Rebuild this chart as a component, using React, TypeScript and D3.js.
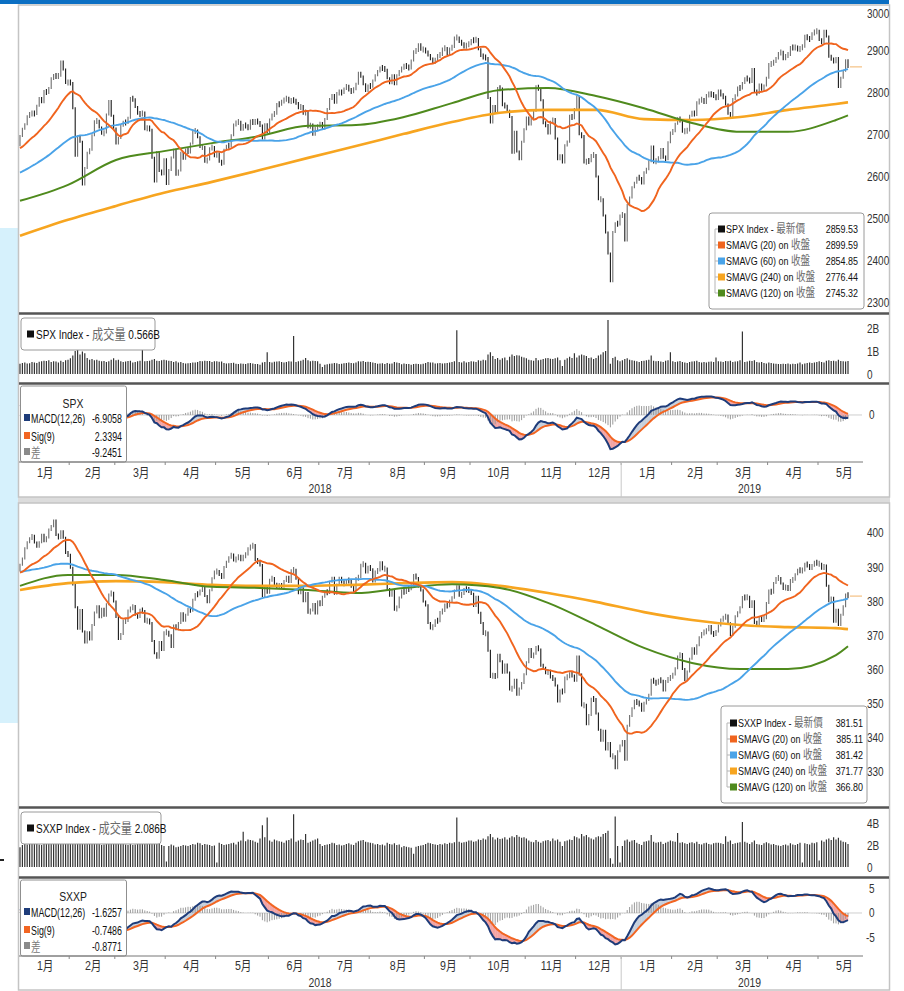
import React from "react";
import * as d3 from "d3";

const SANS = "'Liberation Sans',Arial,sans-serif";
const CJK = "'Noto Sans CJK TC','Noto Sans CJK SC',sans-serif";

// ---------------- shared time axis (trading-day index) ----------------
const monthLabels = ["1月", "2月", "3月", "4月", "5月", "6月", "7月", "8月", "9月", "10月", "11月", "12月", "1月", "2月", "3月", "4月", "5月"];
const monthStarts = [0, 21, 40, 61, 82, 104, 125, 146, 169, 188, 211, 232, 251, 272, 291, 312, 333];
const axisEndIndex = 354;
const yearLabels = ["2018", "2019"];
const yearStarts = [0, 251];
const maSampleIndex = [0, 20, 40, 60, 80, 100, 120, 140, 160, 180, 200, 220, 240, 260, 280, 300, 320, 340, 345];

// ---------------- SPX ----------------
const spxHistory = [
  2552, 2549, 2544, 2551, 2555, 2550, 2553, 2557, 2560, 2561, 2562, 2575, 2565, 2569, 2557, 2560, 2581, 2573, 2575,
  2579, 2580, 2588, 2591, 2591, 2594, 2585, 2582, 2584, 2579, 2565, 2586, 2579, 2582, 2599, 2597, 2602, 2602, 2627, 2626, 2648,
  2642, 2639, 2630, 2629, 2636, 2652, 2660, 2665, 2663, 2652, 2676, 2690, 2681, 2679, 2684, 2683, 2680, 2682, 2688, 2674,
];
const spxClose2018 = [
  2696, 2713, 2724, 2743, 2748, 2751, 2748, 2768, 2786, 2776, 2803, 2798, 2810, 2833, 2839, 2838, 2839, 2873, 2854, 2822, 2824,
  2822, 2762, 2649, 2695, 2682, 2581, 2620, 2656, 2663, 2698, 2731, 2732, 2716, 2701, 2704, 2747, 2779, 2744, 2714,
  2678, 2691, 2721, 2729, 2727, 2739, 2786, 2783, 2765, 2749, 2747, 2752, 2712, 2717, 2711, 2644, 2588, 2658, 2613, 2605, 2641,
  2582, 2615, 2645, 2663, 2604, 2614, 2656, 2642, 2664, 2657, 2678, 2707, 2709, 2693, 2670, 2670, 2635, 2640, 2667, 2670, 2648,
  2655, 2635, 2630, 2663, 2673, 2672, 2698, 2723, 2728, 2730, 2711, 2722, 2720, 2713, 2733, 2725, 2733, 2728, 2721, 2690, 2724, 2705,
  2735, 2747, 2749, 2772, 2771, 2779, 2782, 2787, 2776, 2782, 2780, 2774, 2762, 2767, 2749, 2755, 2717, 2723, 2699, 2716, 2718,
  2727, 2713, 2736, 2760, 2784, 2793, 2775, 2798, 2801, 2798, 2809, 2815, 2804, 2802, 2807, 2820, 2846, 2837, 2819, 2803, 2816,
  2813, 2828, 2840, 2850, 2858, 2857, 2853, 2833, 2821, 2840, 2819, 2840, 2850, 2858, 2863, 2861, 2856, 2875, 2897, 2898, 2914, 2901, 2902,
  2896, 2888, 2878, 2872, 2877, 2888, 2888, 2904, 2905, 2889, 2904, 2907, 2930, 2930, 2919, 2916, 2906, 2914, 2914,
  2924, 2923, 2926, 2902, 2886, 2884, 2881, 2786, 2728, 2767, 2751, 2810, 2809, 2769, 2768, 2756, 2741, 2656, 2706, 2659, 2641, 2682, 2712,
  2740, 2723, 2738, 2756, 2814, 2807, 2781, 2726, 2722, 2702, 2730, 2736, 2690, 2641, 2650, 2633, 2674, 2682, 2744, 2738, 2760,
  2790, 2700, 2696, 2633, 2637, 2636, 2651, 2651, 2600, 2546, 2546, 2507, 2467, 2417, 2351, 2468, 2489, 2486, 2507,
];
const spxClose2019 = [
  2510, 2448, 2532, 2550, 2574, 2585, 2597, 2596, 2583, 2610, 2617, 2636, 2671, 2633, 2639, 2643, 2665, 2644, 2641, 2681, 2704,
  2707, 2725, 2738, 2732, 2706, 2708, 2709, 2744, 2753, 2746, 2776, 2780, 2784, 2774, 2793, 2796, 2794, 2792, 2784,
  2804, 2792, 2789, 2771, 2749, 2743, 2784, 2792, 2811, 2809, 2822, 2833, 2832, 2824, 2855, 2801, 2798, 2818, 2806, 2816, 2834,
  2867, 2867, 2873, 2880, 2893, 2896, 2878, 2888, 2888, 2907, 2905, 2907, 2900, 2905, 2908, 2934, 2927, 2926, 2940, 2943, 2946,
  2924, 2918, 2946, 2932, 2884, 2880, 2871, 2881, 2812, 2834, 2851, 2876, 2860,
];
// volume in hundredths of a billion shares
const spxVolume2018 = [
  45, 48, 50, 46, 47, 52, 50, 48, 53, 55, 58, 56, 60, 52, 55, 54, 50, 58, 52, 60, 62,
  68, 80, 100, 105, 85, 98, 90, 70, 62, 65, 60, 62, 58, 55, 56, 52, 55, 62, 68,
  60, 62, 55, 52, 54, 56, 58, 50, 52, 55, 58, 105, 55, 56, 58, 62, 65, 58, 56, 60, 62,
  60, 58, 56, 52, 55, 50, 52, 48, 46, 47, 48, 50, 50, 52, 56, 55, 58, 56, 57, 52, 55,
  55, 53, 54, 48, 46, 47, 48, 49, 45, 44, 46, 45, 44, 47, 48, 46, 44, 43, 40, 50, 52, 95,
  52, 50, 53, 54, 55, 52, 50, 52, 55, 54, 165, 52, 55, 58, 62, 70, 60, 55, 58, 57, 55,
  45, 30, 40, 42, 45, 46, 48, 47, 44, 45, 47, 48, 50, 48, 47, 50, 55, 54, 56, 52, 53,
  52, 50, 48, 45, 46, 47, 44, 48, 45, 46, 52, 50, 48, 42, 46, 44, 43, 40, 44, 45, 44, 42, 45,
  48, 52, 50, 50, 46, 47, 48, 46, 47, 48, 50, 52, 55, 190, 52, 50, 55, 50, 52,
  55, 54, 52, 60, 58, 62, 60, 85, 95, 78, 65, 70, 62, 68, 72, 60, 75, 85, 78, 82, 80, 75, 72,
  68, 62, 60, 58, 70, 60, 62, 65, 68, 70, 66, 65, 68, 72, 60, 35, 62, 68, 75, 70, 90,
  72, 80, 85, 82, 78, 70, 72, 65, 70, 80, 85, 95, 100, 235, 45, 70, 75, 60, 55,
];
const spxVolume2019 = [
  60, 65, 68, 62, 60, 58, 55, 52, 56, 58, 60, 62, 80, 58, 55, 56, 54, 52, 58, 60, 95,
  55, 52, 54, 56, 52, 50, 48, 52, 54, 55, 58, 52, 50, 52, 50, 53, 54, 52, 72,
  55, 54, 52, 56, 55, 58, 52, 54, 55, 60, 185, 52, 54, 58, 56, 60, 52, 50, 52, 48, 46,
  50, 48, 46, 45, 44, 43, 45, 44, 46, 42, 45, 44, 46, 50, 42, 46, 48, 50, 48, 50, 52,
  55, 52, 50, 58, 60, 56, 58, 55, 62, 56, 55, 54, 57,
];
const spxSma240 = [2459, 2497, 2530, 2561, 2587, 2615, 2644, 2672, 2701, 2729, 2751, 2758, 2758, 2736, 2734, 2741, 2758, 2772, 2776];
const spxSma120 = [2542, 2580, 2639, 2660, 2679, 2696, 2720, 2722, 2741, 2774, 2805, 2810, 2791, 2762, 2727, 2706, 2706, 2734, 2745];
const spxPriceTicks = [3000, 2900, 2800, 2700, 2600, 2500, 2400, 2300];
const spxVolTicks = [2, 1, 0];
const spxVolTickLabels = ["2B", "1B", "0"];
const spxMacdTicks = [0];
const spxLegendValues = ["2859.53", "2899.59", "2854.85", "2776.44", "2745.32"];
const spxMacdLegendValues = ["-6.9058", "2.3394", "-9.2451"];

// ---------------- SXXP ----------------
const sxxpHistory = [
  389, 389, 389, 390, 390, 390, 391, 390, 391, 390, 389, 389, 389, 389, 388, 392, 395, 395, 395,
  396, 395, 396, 396, 393, 391, 389, 386, 384, 380, 380, 382, 382, 385, 387, 387, 385, 386, 388, 384, 383,
  386, 387, 386, 385, 387, 390, 391, 389, 387, 387, 386, 391, 390, 388, 389, 390, 389, 388, 388, 389,
];
const sxxpClose2018 = [
  390.7, 392.5, 395.5, 397.3, 398.4, 399.2, 397.2, 396.0, 397.3, 399.5, 397.6, 398.7, 401.0, 402.0, 403.7, 399.4, 398.5, 400.5, 398.6, 394.1, 393.6,
  389.8, 384.9, 378.2, 371.9, 377.4, 371.1, 367.9, 370.9, 368.8, 373.0, 376.7, 378.5, 375.3, 377.8, 375.7, 379.1, 382.0, 382.5, 379.9,
  375.4, 368.9, 370.4, 374.2, 374.2, 377.3, 377.8, 378.6, 376.0, 375.4, 377.5, 377.1, 374.0, 374.5, 373.6, 368.3, 364.7, 363.4, 368.0, 365.7, 370.9,
  370.9, 370.0, 366.6, 372.9, 371.8, 373.6, 376.5, 374.3, 376.0, 377.8, 377.2, 380.4, 382.1, 382.0, 383.1, 384.0, 381.5, 379.7, 383.2, 386.7, 388.7,
  388.7, 387.9, 386.9, 390.0, 391.6, 392.9, 393.7, 391.9, 392.5, 393.3, 392.0, 393.3, 393.7, 395.5, 396.0, 396.5, 392.1, 391.5, 390.6, 381.5, 383.9, 382.5,
  386.3, 386.8, 384.9, 384.2, 384.7, 384.2, 385.9, 387.2, 385.6, 389.1, 389.2, 386.6, 382.3, 383.8, 380.0, 382.4, 376.6, 377.3, 379.2, 376.4, 379.9,
  378.9, 381.3, 382.8, 382.4, 385.7, 386.9, 382.2, 384.9, 386.9, 385.5, 385.0, 386.1, 386.0, 384.2, 383.1, 386.8, 387.0, 390.7, 391.0, 388.4, 390.1,
  389.4, 385.8, 388.7, 389.0, 391.4, 389.4, 389.6, 383.6, 381.6, 383.3, 377.5, 378.2, 381.1, 383.1, 382.4, 383.7, 383.5, 384.7, 387.7, 386.8, 384.3, 383.2, 379.9,
  378.8, 373.6, 372.0, 372.7, 374.4, 374.1, 376.8, 377.1, 379.0, 378.5, 380.1, 381.0, 383.1, 384.4, 381.6, 382.1, 383.6, 383.4, 383.2,
  382.2, 378.6, 381.3, 376.6, 373.6, 370.4, 370.8, 365.5, 357.8, 358.4, 357.7, 364.3, 362.4, 359.0, 361.4, 359.1, 354.1, 354.6, 357.0, 352.6, 354.4, 356.0, 358.6,
  362.1, 366.0, 363.6, 364.6, 366.6, 365.8, 361.1, 360.5, 358.9, 359.6, 357.6, 357.3, 355.3, 350.6, 353.8, 353.3, 357.6, 357.8, 358.8, 358.2, 356.7,
  363.8, 358.5, 349.4, 349.6, 343.9, 346.6, 351.4, 351.3, 347.1, 342.3, 339.1, 342.0, 336.5, 338.4, 334.5, 334.5, 331.0, 336.0, 337.7,
];
const sxxpClose2019 = [
  339.0, 333.5, 343.5, 346.3, 348.6, 350.8, 350.1, 349.9, 347.9, 350.2, 351.0, 352.6, 357.0, 356.3, 355.9, 356.9, 356.7, 353.8, 356.6, 357.2, 357.7,
  358.5, 360.3, 363.8, 364.5, 360.1, 356.9, 359.4, 363.1, 366.2, 364.6, 367.1, 369.4, 370.7, 370.9, 371.5, 372.7, 370.5, 370.3, 371.1,
  372.9, 374.6, 375.1, 375.8, 373.5, 370.1, 372.5, 375.6, 376.7, 378.2, 381.2, 381.0, 381.3, 378.3, 380.0, 373.6, 373.1, 375.1, 374.5, 375.0, 379.5,
  383.1, 382.5, 385.3, 386.8, 386.8, 385.2, 383.6, 384.4, 383.3, 386.2, 386.3, 387.9, 389.2, 389.0, 389.0, 391.0, 390.5, 389.5, 390.5, 391.5, 391.0,
  391.0, 389.5, 390.5, 384.5, 380.0, 381.0, 374.0, 377.5, 373.0, 376.0, 378.5, 382.0, 381.5,
];
const sxxpVolume2018 = [
  180, 200, 210, 205, 220, 215, 230, 210, 205, 200, 215, 220, 210, 225, 240, 230, 215, 220, 230, 240, 250,
  260, 270, 300, 310, 280, 300, 290, 240, 230, 225, 220, 215, 210, 200, 205, 210, 220, 230, 240,
  230, 220, 210, 215, 205, 200, 210, 200, 205, 210, 240, 320, 210, 220, 215, 230, 250, 220, 210, 200, 190,
  50, 190, 205, 195, 180, 185, 190, 200, 195, 190, 200, 210, 205, 220, 215, 200, 210, 205, 200, 190, 195,
  40, 220, 210, 200, 205, 210, 215, 220, 205, 230, 240, 320, 235, 250, 245, 240, 230, 220, 260, 380, 270, 450,
  240, 230, 250, 240, 235, 230, 220, 240, 245, 260, 480, 230, 240, 250, 245, 300, 220, 230, 240, 250, 260,
  210, 190, 200, 205, 210, 220, 215, 200, 205, 195, 200, 210, 215, 205, 200, 220, 235, 240, 245, 230, 225,
  220, 215, 205, 210, 200, 205, 195, 220, 210, 205, 215, 200, 205, 180, 190, 185, 180, 175, 120, 185, 190, 195, 200,
  210, 220, 215, 210, 205, 200, 210, 205, 215, 210, 220, 215, 225, 450, 230, 220, 225, 230, 240,
  240, 230, 235, 250, 245, 260, 250, 280, 300, 270, 250, 265, 255, 260, 270, 250, 265, 280, 270, 290, 275, 265, 270,
  260, 240, 230, 225, 245, 230, 220, 235, 240, 245, 235, 260, 240, 250, 230, 190, 235, 240, 250, 245, 280,
  270, 260, 300, 280, 290, 270, 260, 250, 270, 280, 275, 300, 310, 330, 80, 30, 460, 190, 40,
];
const sxxpVolume2019 = [
  190, 240, 250, 230, 240, 245, 220, 210, 200, 230, 235, 240, 290, 230, 220, 225, 230, 210, 220, 230, 240,
  235, 230, 310, 220, 225, 215, 210, 220, 225, 215, 230, 210, 205, 215, 220, 210, 205, 215, 220,
  220, 215, 210, 280, 230, 240, 210, 215, 220, 225, 410, 230, 220, 210, 225, 240, 210, 205, 200, 215, 225,
  215, 205, 210, 200, 195, 190, 200, 205, 195, 215, 205, 200, 210, 220, 40, 215, 210, 205, 220, 215, 225,
  60, 240, 230, 250, 260, 245, 270, 250, 265, 240, 230, 225, 209,
];
const sxxpSma240 = [383.3, 385.3, 385.9, 385.6, 384.8, 384.5, 384.5, 384.8, 385.3, 385.6, 384.5, 382.4, 379.8, 376.8, 374.5, 373.0, 372.4, 372.1, 371.8];
const sxxpSma120 = [384.5, 387.7, 387.7, 386.2, 384.2, 383.9, 383.3, 382.4, 383.9, 385.0, 383.9, 379.5, 373.0, 366.3, 361.9, 360.1, 360.1, 364.2, 366.8];
const sxxpPriceTicks = [400, 390, 380, 370, 360, 350, 340, 330];
const sxxpVolTicks = [4, 2, 0];
const sxxpVolTickLabels = ["4B", "2B", "0"];
const sxxpMacdTicks = [5, 0, -5];
const sxxpLegendValues = ["381.51", "385.11", "381.42", "371.77", "366.80"];
const sxxpMacdLegendValues = ["-1.6257", "-0.7486", "-0.8771"];

// ---------------- styling ----------------
const C = {
  sma20: "#f0641e",
  sma60: "#4aa3e8",
  sma240: "#f7a520",
  sma120: "#4f8a1d",
  macd: "#1e3c7a",
  sig: "#f26522",
  pink: "#f3a3a3",
  blueFill: "#c6d0dd",
  hist: "#9a9a9a",
};

function ema(values: number[], n: number): number[] {
  const k = 2 / (n + 1);
  const out: number[] = [];
  let e = values[0];
  values.forEach((v) => {
    e = v * k + e * (1 - k);
    out.push(e);
  });
  return out;
}
function sma(values: number[], n: number, start: number): number[] {
  const out: number[] = [];
  for (let i = start; i < values.length; i++) out.push(d3.mean(values.slice(i - n + 1, i + 1)) as number);
  return out;
}

// narrow text (simulates a condensed face)
function NText(props: {
  x: number; y: number; anchor?: "start" | "middle" | "end"; size?: number; fill?: string; family?: string; sx?: number; children: React.ReactNode;
}) {
  const { x, y, anchor = "start", size = 12, fill = "#111", family = SANS, sx = 0.8, children } = props;
  return (
    <text transform={`translate(${x},${y}) scale(${sx},1)`} textAnchor={anchor} fontFamily={family} fontSize={size} fill={fill} style={{ whiteSpace: "pre" }}>
      {children}
    </text>
  );
}

type Geo = {
  frameTop: number; priceTop: number; priceBottom: number; sep1: number; volTop: number; volBottom: number;
  sep2: number; macdTop: number; axisY: number; monthY: number; yearY: number; frameBottom: number;
};
type Cfg = {
  id: string; name: string; g: Geo;
  history: number[]; closes: number[]; volumes: number[]; sma240: number[]; sma120: number[];
  priceDomain: [number, number]; priceTicks: number[];
  volDomain: [number, number]; volRange: [number, number]; volTicks: number[]; volTickLabels: string[];
  macdDomain: [number, number]; macdRange: [number, number]; macdTicks: number[];
  legendValues: string[]; macdLegendValues: string[]; volLegend: string;
  legendBox: { x: number; y: number; w: number; h: number; row0: number; dy: number; valueX: number };
  volBox: { x: number; y: number; w: number; h: number };
  macdBox: { y: number; h: number; titleY: number; rowY: number[] };
};

const x = d3.scaleLinear().domain([0, 345]).range([20, 848]);

function IndexChart({ cfg }: { cfg: Cfg }) {
  const { g } = cfg;
  const h = cfg.history.length;
  const full = cfg.history.concat(cfg.closes);
  const sma20 = sma(full, 20, h);
  const sma60 = sma(full, 60, h);
  const e12 = ema(full, 12);
  const e26 = ema(full, 26);
  const macdFull = e12.map((v, i) => v - e26[i]);
  const sigFull = ema(macdFull, 9);
  const macd = macdFull.slice(h);
  const sig = sigFull.slice(h);

  const yP = d3.scaleLinear().domain(cfg.priceDomain).range([g.priceBottom, g.priceTop]);
  const yV = d3.scaleLinear().domain(cfg.volDomain).range(cfg.volRange);
  const yM = d3.scaleLinear().domain(cfg.macdDomain).range(cfg.macdRange);

  const dailyLine = (arr: number[], y: d3.ScaleLinear<number, number>) =>
    d3.line<number>().x((_, i) => x(i)).y((d) => y(d))(arr) || "";
  const sampledLine = (arr: number[]) =>
    d3.line<number>().x((_, i) => x(maSampleIndex[i])).y((d) => yP(d)).curve(d3.curveMonotoneX)(arr) || "";

  const last = cfg.closes[cfg.closes.length - 1];
  const clipP = `${cfg.id}-clipP`;
  const clipM = `${cfg.id}-clipM`;
  const lb = cfg.legendBox;
  const legendRows = [
    { color: "#111", label: `${cfg.name} Index - `, cjk: "最新價" },
    { color: C.sma20, label: "SMAVG (20) on ", cjk: "收盤" },
    { color: C.sma60, label: "SMAVG (60) on ", cjk: "收盤" },
    { color: C.sma240, label: "SMAVG (240) on ", cjk: "收盤" },
    { color: C.sma120, label: "SMAVG (120) on ", cjk: "收盤" },
  ];
  const macdRows = [
    { color: C.macd, label: "MACD(12,26)", cjk: "" },
    { color: C.sig, label: "Sig(9)", cjk: "" },
    { color: "#8a8a8a", label: "", cjk: "差" },
  ];
  const divX = x(yearStarts[1] - 0.5);
  const monthMid = monthStarts.map((s, i) => (s + (i + 1 < monthStarts.length ? monthStarts[i + 1] : axisEndIndex)) / 2);
  const yearMid = [(yearStarts[0] + yearStarts[1]) / 2 - 0.5, (yearStarts[1] + axisEndIndex) / 2 + 1.5];

  return (
    <g>
      <defs>
        <clipPath id={clipP}>
          <rect x={19} y={g.priceTop} width={845} height={g.priceBottom - g.priceTop} />
        </clipPath>
        <clipPath id={clipM}>
          <rect x={19} y={g.macdTop} width={845} height={g.axisY - g.macdTop} />
        </clipPath>
      </defs>
      {/* frame */}
      <rect x={18.5} y={g.frameTop} width={871} height={g.frameBottom - g.frameTop} fill="#fff" stroke="#c4c4c4" strokeWidth={1.5} />

      {/* price panel */}
      <g clipPath={`url(#${clipP})`}>
        {cfg.closes.map((c, i) => {
          const prev = i === 0 ? cfg.history[h - 1] : cfg.closes[i - 1];
          let y1 = yP(Math.max(prev, c));
          let y2 = yP(Math.min(prev, c));
          if (y2 - y1 < 4) {
            const m = (y1 + y2) / 2;
            y1 = m - 2;
            y2 = m + 2;
          }
          return <line key={i} x1={x(i)} x2={x(i)} y1={y1 - 1} y2={y2 + 1} stroke={c < prev ? "#1a1a1a" : "#6e6e6e"} strokeWidth={1.1} />;
        })}
        <path d={sampledLine(cfg.sma240)} fill="none" stroke={C.sma240} strokeWidth={2.6} />
        <path d={sampledLine(cfg.sma120)} fill="none" stroke={C.sma120} strokeWidth={2} />
        <path d={dailyLine(sma60, yP)} fill="none" stroke={C.sma60} strokeWidth={1.9} />
        <path d={dailyLine(sma20, yP)} fill="none" stroke={C.sma20} strokeWidth={1.9} />
        <line x1={x(345) + 2} x2={862} y1={yP(last)} y2={yP(last)} stroke="#f2b46a" strokeWidth={1} />
      </g>
      {cfg.priceTicks.map((t) => (
        <NText key={t} x={867} y={Math.max(yP(t), g.priceTop + 8) + 4.5} size={12.5} fill="#333">
          {t}
        </NText>
      ))}

      {/* price legend */}
      <rect x={lb.x} y={lb.y} width={lb.w} height={lb.h} rx={3} fill="#fff" stroke="#9a9a9a" strokeWidth={1} />
      <line x1={lb.x + 6} x2={lb.x + 6} y1={lb.row0} y2={lb.row0 + 4 * lb.dy} stroke="#b5b5b5" strokeWidth={1} />
      {legendRows.map((r, i) => {
        const ry = lb.row0 + i * lb.dy;
        return (
          <g key={i}>
            <line x1={lb.x + 6} x2={lb.x + 9} y1={ry} y2={ry} stroke="#b5b5b5" />
            <rect x={lb.x + 9} y={ry - 3.5} width={7} height={7} fill={r.color} />
            <NText x={lb.x + 17} y={ry + 4} size={11.2} sx={0.8}>
              {r.label}
              <tspan fontFamily={CJK} fontSize={12} fill="#6a6a6a">{r.cjk}</tspan>
            </NText>
            <NText x={lb.valueX} y={ry + 4} anchor="end" size={11.2} sx={0.8}>
              {cfg.legendValues[i]}
            </NText>
          </g>
        );
      })}

      {/* separators */}
      <line x1={19} x2={889} y1={g.sep1} y2={g.sep1} stroke="#555" strokeWidth={2.5} />
      <line x1={19} x2={889} y1={g.sep2} y2={g.sep2} stroke="#555" strokeWidth={2.5} />

      {/* volume */}
      {cfg.volumes.map((v, i) => (
        <line key={i} x1={x(i)} x2={x(i)} y1={yV(0)} y2={yV(v / 100)} stroke="#333" strokeWidth={1.2} />
      ))}
      {cfg.volTicks.map((t, i) => (
        <NText key={t} x={867} y={yV(t) + 4.5} size={12.5} fill="#333">
          {cfg.volTickLabels[i]}
        </NText>
      ))}
      <rect x={cfg.volBox.x} y={cfg.volBox.y} width={cfg.volBox.w} height={cfg.volBox.h} rx={3} fill="#fff" stroke="#9a9a9a" />
      <rect x={cfg.volBox.x + 6} y={cfg.volBox.y + cfg.volBox.h / 2 - 3.5} width={7} height={7} fill="#111" />
      <NText x={cfg.volBox.x + 15} y={cfg.volBox.y + cfg.volBox.h / 2 + 5} size={12.5} sx={0.8}>
        {`${cfg.name} Index - `}
        <tspan fontFamily={CJK} fontSize={14} fill="#6a6a6a">成交量</tspan>
        {` ${cfg.volLegend}`}
      </NText>

      {/* MACD */}
      <line x1={127} x2={862} y1={yM(0)} y2={yM(0)} stroke="#cfcfcf" strokeWidth={1} />
      <g clipPath={`url(#${clipM})`}>
        {macd.slice(0, -1).map((m, i) => {
          const d = m - sig[i] + macd[i + 1] - sig[i + 1];
          const p = `M${x(i)},${yM(m)}L${x(i + 1)},${yM(macd[i + 1])}L${x(i + 1)},${yM(sig[i + 1])}L${x(i)},${yM(sig[i])}Z`;
          return <path key={i} d={p} fill={d < 0 ? C.pink : C.blueFill} stroke={d < 0 ? C.pink : C.blueFill} strokeWidth={0.4} />;
        })}
        {macd.map((m, i) => (
          <line key={`h${i}`} x1={x(i)} x2={x(i)} y1={yM(0)} y2={yM(m - sig[i])} stroke={C.hist} strokeWidth={1} />
        ))}
        <path d={dailyLine(sig, yM)} fill="none" stroke={C.sig} strokeWidth={2} />
        <path d={dailyLine(macd, yM)} fill="none" stroke={C.macd} strokeWidth={2} />
      </g>
      {cfg.macdTicks.map((t) => (
        <NText key={t} x={t < 0 ? 866 : 869} y={yM(t) + 4.5} size={12.5} fill="#333">
          {t}
        </NText>
      ))}
      <rect x={20.5} y={cfg.macdBox.y} width={106} height={cfg.macdBox.h} rx={2} fill="#fff" stroke="#8f8f8f" />
      <NText x={73} y={cfg.macdBox.titleY} anchor="middle" size={13} fill="#222">
        {cfg.name}
      </NText>
      {macdRows.map((r, i) => {
        const ry = cfg.macdBox.rowY[i];
        return (
          <g key={i}>
            <rect x={24} y={ry - 9} width={6} height={7} fill={r.color} />
            <NText x={31} y={ry} size={12} sx={0.74}>
              {r.label}
              {r.cjk ? <tspan fontFamily={CJK} fontSize={13} fill="#777">{r.cjk}</tspan> : null}
            </NText>
            <NText x={122} y={ry} anchor="end" size={12} sx={0.74}>
              {cfg.macdLegendValues[i]}
            </NText>
          </g>
        );
      })}

      {/* time axis */}
      <line x1={19} x2={863} y1={g.axisY} y2={g.axisY} stroke="#777" strokeWidth={1} />
      {monthStarts.slice(1).map((s) => (
        <line key={s} x1={x(s - 0.5)} x2={x(s - 0.5)} y1={g.axisY} y2={g.axisY + 3} stroke="#888" />
      ))}
      {monthLabels.map((m, i) => (
        <NText key={i} x={x(monthMid[i])} y={g.monthY} anchor="middle" size={13} fill="#333" sx={0.82}>
          {m.replace("月", "")}
          <tspan fontFamily={CJK} fontSize={13}>月</tspan>
        </NText>
      ))}
      <line x1={divX} x2={divX} y1={g.axisY} y2={g.frameBottom} stroke="#c8c8c8" strokeWidth={1} />
      {yearLabels.map((yl, i) => (
        <NText key={yl} x={x(yearMid[i])} y={g.yearY} anchor="middle" size={13} fill="#333">
          {yl}
        </NText>
      ))}
    </g>
  );
}

const spxCfg: Cfg = {
  id: "spx",
  name: "SPX",
  g: { frameTop: 5, priceTop: 5, priceBottom: 312, sep1: 313.5, volTop: 315, volBottom: 382, sep2: 383.5, macdTop: 385, axisY: 462, monthY: 477, yearY: 493, frameBottom: 497 },
  history: spxHistory,
  closes: spxClose2018.concat(spxClose2019),
  volumes: spxVolume2018.concat(spxVolume2019),
  sma240: spxSma240,
  sma120: spxSma120,
  priceDomain: [2278, 3007],
  priceTicks: spxPriceTicks,
  volDomain: [0, 2.5],
  volRange: [374, 316.5],
  volTicks: spxVolTicks,
  volTickLabels: spxVolTickLabels,
  macdDomain: [-106, 70],
  macdRange: [461.6, 384.2],
  macdTicks: spxMacdTicks,
  legendValues: spxLegendValues,
  macdLegendValues: spxMacdLegendValues,
  volLegend: "0.566B",
  legendBox: { x: 709, y: 213, w: 155, h: 96, row0: 229, dy: 16, valueX: 858 },
  volBox: { x: 21, y: 318, w: 134, h: 32 },
  macdBox: { y: 386, h: 76, titleY: 408, rowY: [423, 441, 457] },
};

const sxxpCfg: Cfg = {
  id: "sxxp",
  name: "SXXP",
  g: { frameTop: 503, priceTop: 505, priceBottom: 806, sep1: 807.5, volTop: 810, volBottom: 876, sep2: 877.5, macdTop: 879, axisY: 956, monthY: 970, yearY: 987, frameBottom: 990 },
  history: sxxpHistory,
  closes: sxxpClose2018.concat(sxxpClose2019),
  volumes: sxxpVolume2018.concat(sxxpVolume2019),
  sma240: sxxpSma240,
  sma120: sxxpSma120,
  priceDomain: [319.94, 408.21],
  priceTicks: sxxpPriceTicks,
  volDomain: [0, 5.2],
  volRange: [867, 809.8],
  volTicks: sxxpVolTicks,
  volTickLabels: sxxpVolTickLabels,
  macdDomain: [-8.8, 6.9],
  macdRange: [956.1, 879.2],
  macdTicks: sxxpMacdTicks,
  legendValues: sxxpLegendValues,
  macdLegendValues: sxxpMacdLegendValues,
  volLegend: "2.086B",
  legendBox: { x: 721, y: 706, w: 146, h: 97, row0: 723, dy: 16, valueX: 863 },
  volBox: { x: 21, y: 812, w: 140, h: 32 },
  macdBox: { y: 880, h: 76, titleY: 901, rowY: [917, 935, 951] },
};

export default function App() {
  return (
    <svg width={904} height={991} style={{ position: "absolute", left: 0, top: 0, background: "#fff" }}>
      <rect x={0} y={0} width={904} height={991} fill="#fff" />
      <rect x={0} y={228} width={18} height={495} fill="#d6f1fc" />
      <rect x={0} y={0} width={889} height={4} fill="#0b6fc3" />
      <rect x={18} y={497} width={872} height={6} fill="#dcdcdc" />
      <IndexChart cfg={spxCfg} />
      <IndexChart cfg={sxxpCfg} />
      <rect x={0} y={859} width={4} height={2} fill="#222" />
    </svg>
  );
}
